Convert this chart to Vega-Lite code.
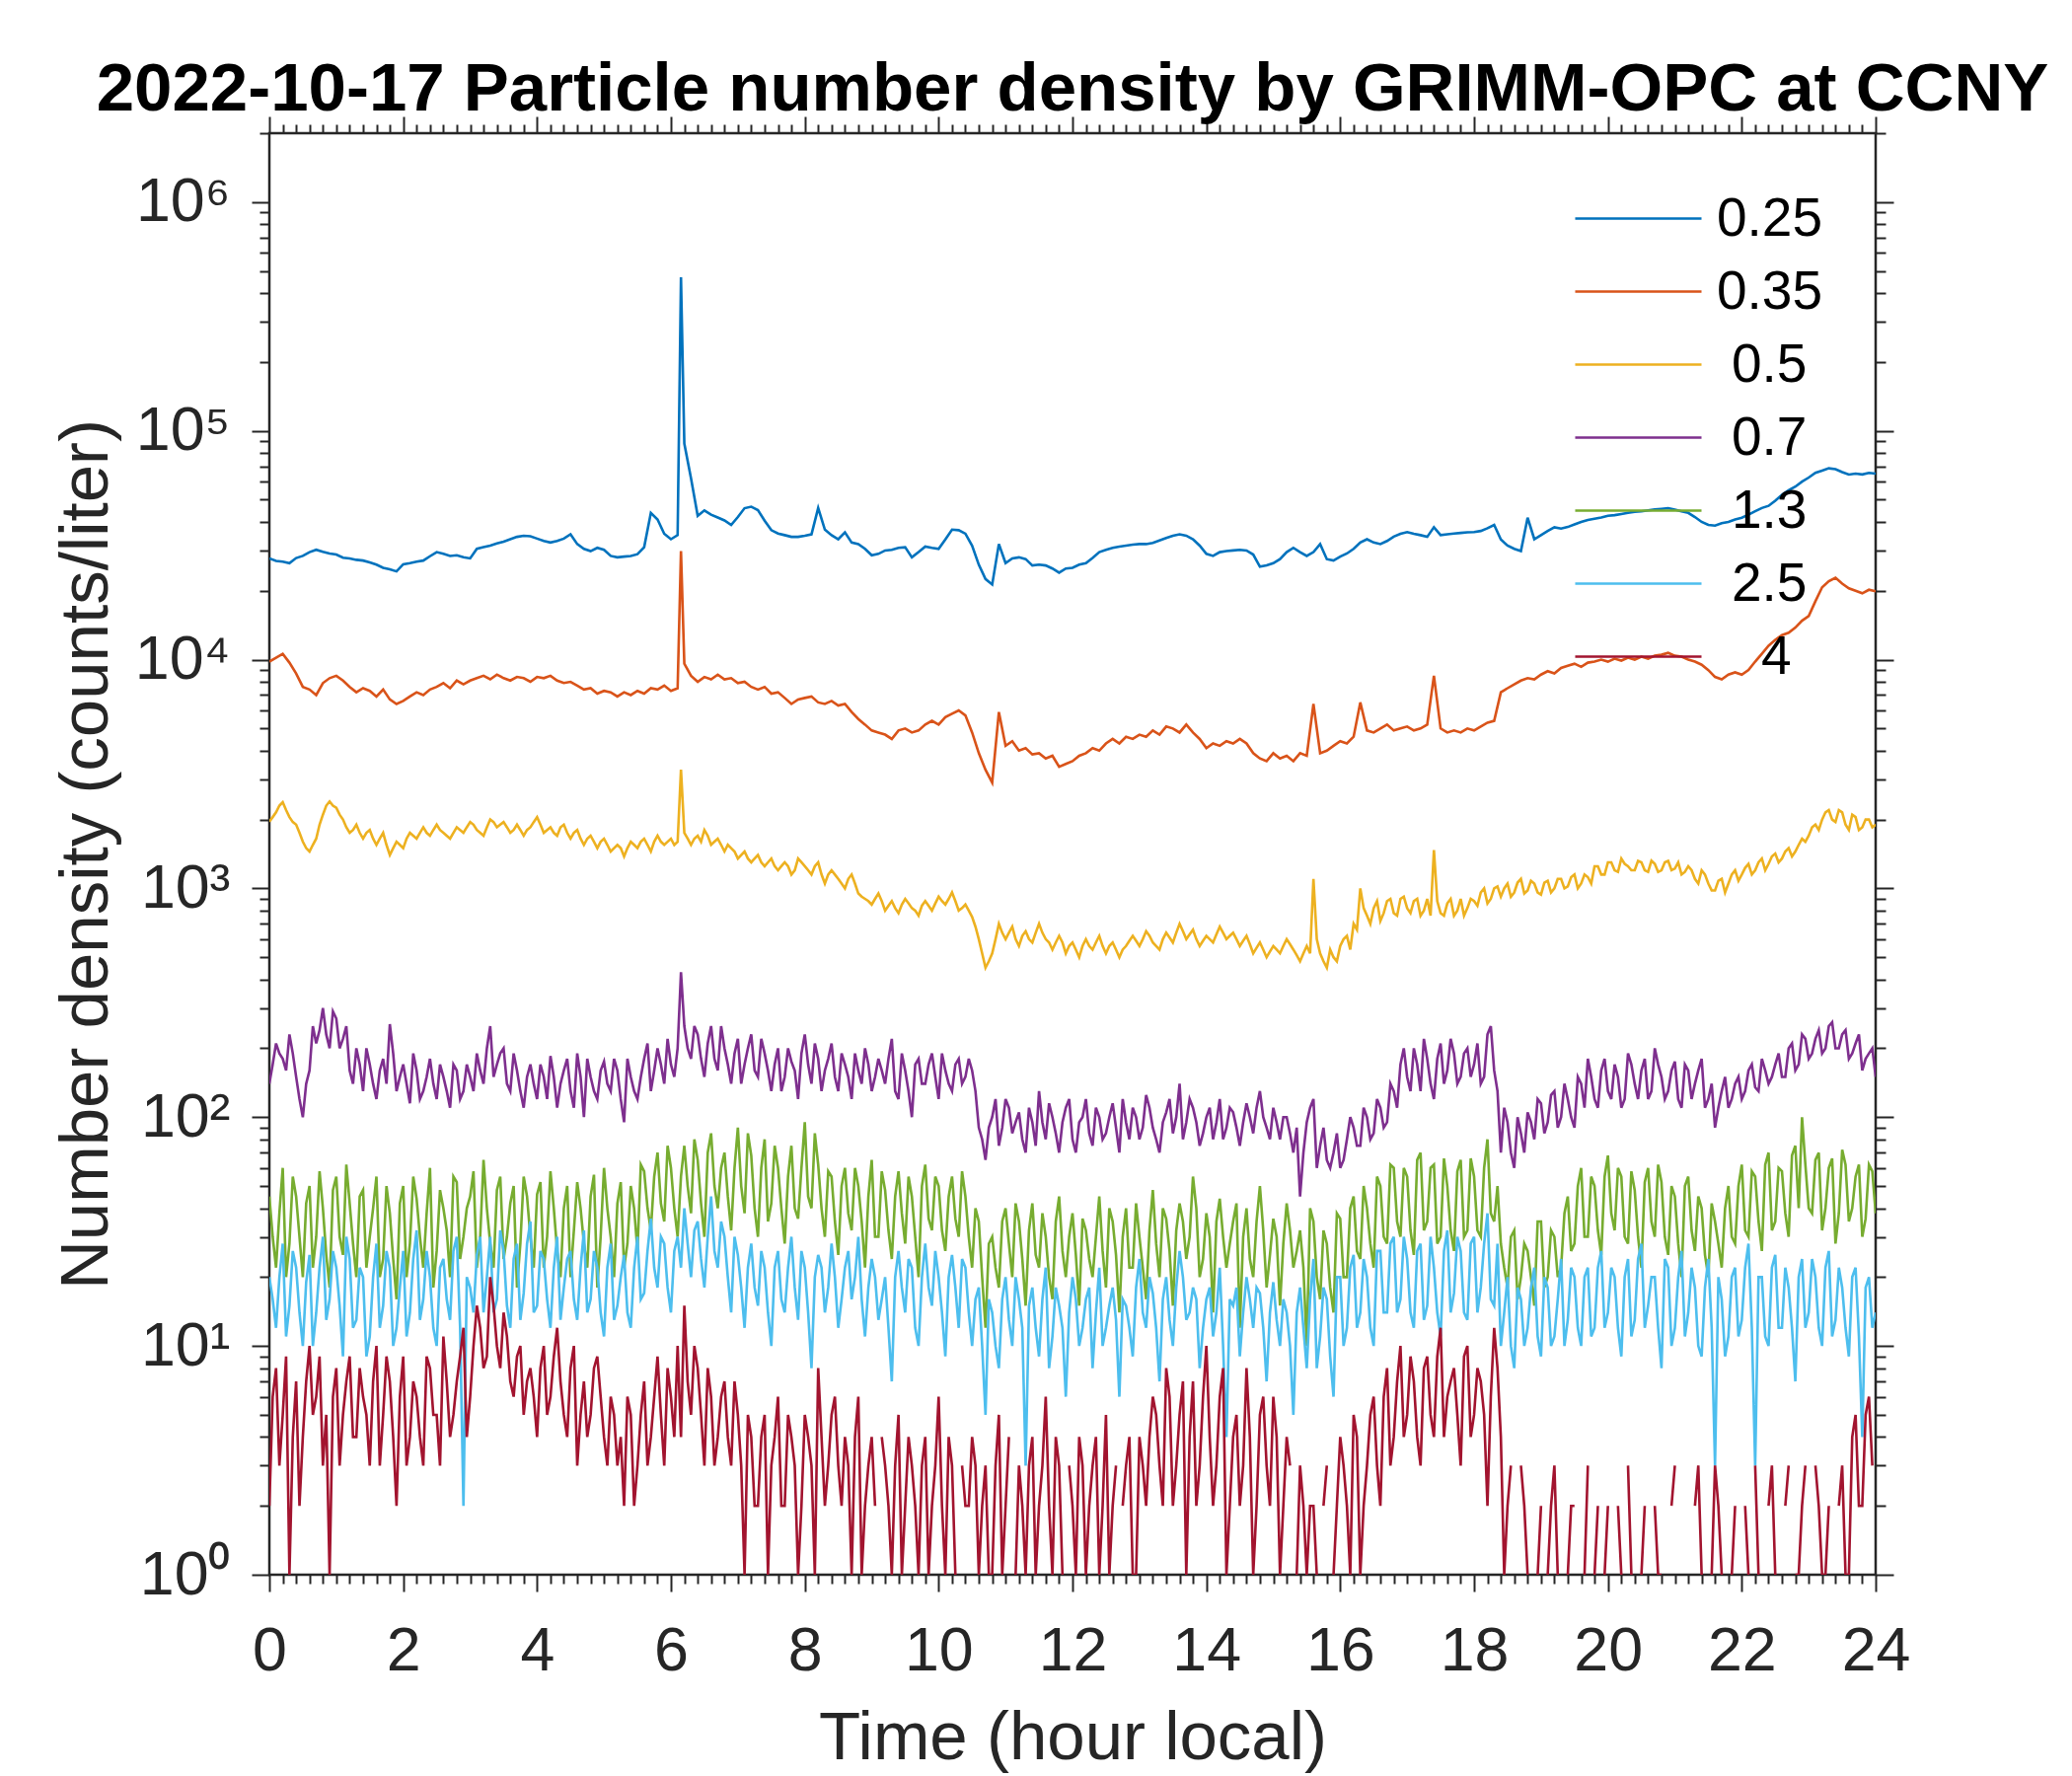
{
  "$schema": "https://vega.github.io/schema/vega-lite/v6.json",
  "width": 1628,
  "height": 1461,
  "autosize": "none",
  "padding": {"left": 273, "top": 135, "right": 199, "bottom": 204},
  "background": "white",
  "title": {
    "text": "2022-10-17 Particle number density by GRIMM-OPC at CCNY",
    "font": "Liberation Sans",
    "fontSize": 69,
    "fontWeight": "bold",
    "color": "black",
    "anchor": "middle",
    "offset": -9
  },
  "config": {
    "view": {"stroke": "#262626", "strokeWidth": 2.5},
    "font": "Liberation Sans",
    "axis": {
      "grid": false,
      "domain": false,
      "tickColor": "#262626",
      "tickWidth": 2,
      "labelColor": "#262626",
      "labelFont": "Liberation Sans",
      "labelFontSize": 62.7,
      "labelOverlap": false,
      "labelFlush": false,
      "titleFont": "Liberation Sans",
      "titleFontSize": 69,
      "titleFontWeight": "normal",
      "titleColor": "#262626"
    }
  },
  "resolve": {"axis": {"x": "independent", "y": "independent"}},
  "layer": [
    {
      "data": {
        "values": [
          {"t":0,"a":27700,"b":9800,"c":1960,"d":140,"e":45,"f":20,"g":2},
          {"t":0.1,"a":27000,"b":10200,"c":2150,"d":210,"e":22,"f":12,"g":8},
          {"t":0.2,"a":26800,"b":10600,"c":2380,"d":180,"e":60,"f":28,"g":5},
          {"t":0.3,"a":26400,"b":9700,"c":2050,"d":230,"e":28,"f":15,"g":1},
          {"t":0.4,"a":27800,"b":8700,"c":1900,"d":150,"e":45,"f":22,"g":7},
          {"t":0.5,"a":28400,"b":7600,"c":1600,"d":100,"e":20,"f":10,"g":4},
          {"t":0.6,"a":29500,"b":7400,"c":1450,"d":160,"e":50,"f":25,"g":10},
          {"t":0.7,"a":30200,"b":7000,"c":1650,"d":210,"e":30,"f":14,"g":6},
          {"t":0.8,"a":29600,"b":7900,"c":2100,"d":300,"e":40,"f":30,"g":3},
          {"t":0.9,"a":29100,"b":8300,"c":2400,"d":200,"e":18,"f":16,"g":1},
          {"t":1.0,"a":28800,"b":8500,"c":2250,"d":270,"e":55,"f":22,"g":8},
          {"t":1.1,"a":27900,"b":8100,"c":2000,"d":220,"e":25,"f":9,"g":5},
          {"t":1.2,"a":27700,"b":7600,"c":1750,"d":160,"e":42,"f":24,"g":9},
          {"t":1.3,"a":27300,"b":7200,"c":1900,"d":200,"e":20,"f":13,"g":4},
          {"t":1.4,"a":27100,"b":7500,"c":1650,"d":130,"e":48,"f":20,"g":6},
          {"t":1.5,"a":26600,"b":7300,"c":1800,"d":170,"e":30,"f":11,"g":3},
          {"t":1.6,"a":26000,"b":6900,"c":1550,"d":120,"e":55,"f":28,"g":10},
          {"t":1.7,"a":25200,"b":7400,"c":1750,"d":180,"e":24,"f":15,"g":5},
          {"t":1.8,"a":24800,"b":6700,"c":1400,"d":255,"e":38,"f":22,"g":7},
          {"t":1.9,"a":24300,"b":6400,"c":1600,"d":130,"e":16,"f":12,"g":2},
          {"t":2.0,"a":26100,"b":6600,"c":1500,"d":170,"e":50,"f":26,"g":9},
          {"t":2.1,"a":26400,"b":6900,"c":1750,"d":115,"e":28,"f":14,"g":4},
          {"t":2.2,"a":26800,"b":7200,"c":1650,"d":160,"e":44,"f":32,"g":6},
          {"t":2.3,"a":27100,"b":7000,"c":1850,"d":130,"e":22,"f":16,"g":3},
          {"t":2.4,"a":28300,"b":7400,"c":1700,"d":180,"e":60,"f":20,"g":8},
          {"t":2.5,"a":29500,"b":7600,"c":1900,"d":120,"e":26,"f":10,"g":5},
          {"t":2.6,"a":29000,"b":7900,"c":1750,"d":150,"e":40,"f":24,"g":11},
          {"t":2.7,"a":28400,"b":7500,"c":1650,"d":110,"e":20,"f":13,"g":4},
          {"t":2.8,"a":28600,"b":8100,"c":1850,"d":160,"e":52,"f":30,"g":7},
          {"t":2.9,"a":28000,"b":7800,"c":1750,"d":130,"e":30,"f":2,"g":12},
          {"t":3.0,"a":27700,"b":8100,"c":1950,"d":150,"e":45,"f":18,"g":6},
          {"t":3.1,"a":30500,"b":8300,"c":1800,"d":190,"e":22,"f":25,"g":15},
          {"t":3.2,"a":31000,"b":8500,"c":1700,"d":140,"e":65,"f":14,"g":8},
          {"t":3.3,"a":31500,"b":8200,"c":2000,"d":250,"e":28,"f":30,"g":20},
          {"t":3.4,"a":32200,"b":8600,"c":1850,"d":170,"e":48,"f":16,"g":10},
          {"t":3.5,"a":32800,"b":8300,"c":1950,"d":200,"e":24,"f":26,"g":14},
          {"t":3.6,"a":33600,"b":8100,"c":1750,"d":130,"e":42,"f":12,"g":7},
          {"t":3.7,"a":34400,"b":8400,"c":1900,"d":160,"e":18,"f":28,"g":9},
          {"t":3.8,"a":34800,"b":8300,"c":1700,"d":110,"e":55,"f":17,"g":5},
          {"t":3.9,"a":34600,"b":8000,"c":1850,"d":170,"e":30,"f":35,"g":8},
          {"t":4.0,"a":33800,"b":8400,"c":2050,"d":120,"e":46,"f":15,"g":4},
          {"t":4.1,"a":33000,"b":8300,"c":1750,"d":150,"e":22,"f":24,"g":10},
          {"t":4.2,"a":32500,"b":8500,"c":1850,"d":185,"e":58,"f":12,"g":6},
          {"t":4.3,"a":33000,"b":8100,"c":1700,"d":110,"e":26,"f":30,"g":12},
          {"t":4.4,"a":33800,"b":7900,"c":1900,"d":160,"e":40,"f":18,"g":5},
          {"t":4.5,"a":35300,"b":8000,"c":1650,"d":130,"e":20,"f":26,"g":8},
          {"t":4.6,"a":32000,"b":7700,"c":1800,"d":190,"e":52,"f":13,"g":3},
          {"t":4.7,"a":30500,"b":7400,"c":1550,"d":100,"e":28,"f":32,"g":7},
          {"t":4.8,"a":29800,"b":7500,"c":1700,"d":150,"e":45,"f":16,"g":5},
          {"t":4.9,"a":30800,"b":7100,"c":1500,"d":120,"e":18,"f":22,"g":9},
          {"t":5.0,"a":30200,"b":7300,"c":1650,"d":175,"e":60,"f":11,"g":4},
          {"t":5.1,"a":28400,"b":7200,"c":1450,"d":130,"e":30,"f":28,"g":6},
          {"t":5.2,"a":28000,"b":6900,"c":1550,"d":160,"e":42,"f":15,"g":3},
          {"t":5.3,"a":28200,"b":7200,"c":1380,"d":95,"e":22,"f":25,"g":2},
          {"t":5.4,"a":28400,"b":7000,"c":1600,"d":150,"e":50,"f":12,"g":5},
          {"t":5.5,"a":28900,"b":7300,"c":1500,"d":120,"e":26,"f":30,"g":3},
          {"t":5.6,"a":31000,"b":7100,"c":1650,"d":180,"e":58,"f":17,"g":7},
          {"t":5.7,"a":43800,"b":7500,"c":1450,"d":130,"e":32,"f":36,"g":4},
          {"t":5.8,"a":41000,"b":7400,"c":1700,"d":200,"e":70,"f":18,"g":9},
          {"t":5.9,"a":35500,"b":7700,"c":1550,"d":140,"e":35,"f":28,"g":3},
          {"t":6.0,"a":33600,"b":7300,"c":1650,"d":170,"e":60,"f":14,"g":6},
          {"t":6.1,"a":35000,"b":7500,"c":1600,"d":200,"e":30,"f":30,"g":10},
          {"t":6.15,"a":469000,"b":29800,"c":3300,"d":430,"e":55,"f":22,"g":4},
          {"t":6.2,"a":88000,"b":9600,"c":1750,"d":250,"e":75,"f":40,"g":15},
          {"t":6.3,"a":62000,"b":8500,"c":1550,"d":180,"e":38,"f":20,"g":5},
          {"t":6.4,"a":42500,"b":8000,"c":1700,"d":230,"e":65,"f":35,"g":8},
          {"t":6.5,"a":44900,"b":8400,"c":1800,"d":150,"e":30,"f":18,"g":3},
          {"t":6.6,"a":43000,"b":8200,"c":1550,"d":250,"e":85,"f":45,"g":6},
          {"t":6.7,"a":41800,"b":8600,"c":1650,"d":160,"e":40,"f":22,"g":4},
          {"t":6.8,"a":40600,"b":8200,"c":1450,"d":200,"e":70,"f":30,"g":7},
          {"t":6.9,"a":38800,"b":8300,"c":1500,"d":140,"e":32,"f":14,"g":3},
          {"t":7.0,"a":42000,"b":7900,"c":1350,"d":220,"e":90,"f":25,"g":5},
          {"t":7.1,"a":45900,"b":8000,"c":1450,"d":170,"e":38,"f":12,"g":1},
          {"t":7.2,"a":46600,"b":7600,"c":1300,"d":230,"e":68,"f":28,"g":4},
          {"t":7.3,"a":45000,"b":7400,"c":1400,"d":150,"e":30,"f":15,"g":2},
          {"t":7.4,"a":40500,"b":7600,"c":1250,"d":190,"e":80,"f":22,"g":5},
          {"t":7.5,"a":36800,"b":7100,"c":1350,"d":130,"e":42,"f":10,"g":3},
          {"t":7.6,"a":35600,"b":7200,"c":1200,"d":200,"e":60,"f":26,"g":6},
          {"t":7.7,"a":35000,"b":6800,"c":1300,"d":150,"e":28,"f":14,"g":2},
          {"t":7.8,"a":34400,"b":6400,"c":1150,"d":175,"e":75,"f":30,"g":4},
          {"t":7.9,"a":34400,"b":6700,"c":1350,"d":120,"e":36,"f":13,"g":1},
          {"t":8.0,"a":34800,"b":6800,"c":1250,"d":230,"e":95,"f":22,"g":5},
          {"t":8.1,"a":35300,"b":6900,"c":1150,"d":140,"e":40,"f":8,"g":3},
          {"t":8.2,"a":46000,"b":6500,"c":1300,"d":180,"e":62,"f":25,"g":8},
          {"t":8.3,"a":37000,"b":6400,"c":1050,"d":160,"e":30,"f":14,"g":2},
          {"t":8.4,"a":35000,"b":6600,"c":1200,"d":210,"e":55,"f":28,"g":5},
          {"t":8.5,"a":33600,"b":6300,"c":1100,"d":130,"e":25,"f":12,"g":3},
          {"t":8.6,"a":36000,"b":6400,"c":1000,"d":170,"e":60,"f":22,"g":4},
          {"t":8.7,"a":32500,"b":5900,"c":1150,"d":120,"e":32,"f":16,"g":1},
          {"t":8.8,"a":32000,"b":5500,"c":950,"d":160,"e":50,"f":30,"g":6},
          {"t":8.9,"a":30500,"b":5200,"c":900,"d":200,"e":22,"f":11,"g":2},
          {"t":9.0,"a":28600,"b":4900,"c":850,"d":130,"e":65,"f":24,"g":4},
          {"t":9.1,"a":29000,"b":4800,"c":950,"d":180,"e":30,"f":13,"g":null},
          {"t":9.2,"a":30000,"b":4700,"c":800,"d":140,"e":48,"f":20,"g":3},
          {"t":9.3,"a":30200,"b":4500,"c":880,"d":220,"e":24,"f":7,"g":1},
          {"t":9.4,"a":30800,"b":4900,"c":780,"d":120,"e":58,"f":26,"g":5},
          {"t":9.5,"a":31000,"b":5000,"c":900,"d":160,"e":28,"f":14,"g":2},
          {"t":9.6,"a":28000,"b":4800,"c":820,"d":100,"e":45,"f":22,"g":3},
          {"t":9.7,"a":29500,"b":4900,"c":760,"d":180,"e":20,"f":10,"g":1},
          {"t":9.8,"a":31200,"b":5200,"c":880,"d":140,"e":62,"f":28,"g":4},
          {"t":9.9,"a":30800,"b":5400,"c":800,"d":190,"e":32,"f":15,"g":2},
          {"t":10.0,"a":30500,"b":5200,"c":920,"d":120,"e":50,"f":20,"g":6},
          {"t":10.1,"a":33500,"b":5600,"c":850,"d":160,"e":26,"f":9,"g":1},
          {"t":10.2,"a":37000,"b":5800,"c":960,"d":130,"e":55,"f":25,"g":3},
          {"t":10.3,"a":36800,"b":6000,"c":800,"d":180,"e":30,"f":12,"g":null},
          {"t":10.4,"a":35500,"b":5700,"c":850,"d":150,"e":45,"f":22,"g":2},
          {"t":10.5,"a":31500,"b":4800,"c":750,"d":160,"e":22,"f":10,"g":4},
          {"t":10.6,"a":26000,"b":3900,"c":600,"d":90,"e":35,"f":18,"g":1},
          {"t":10.7,"a":22500,"b":3300,"c":450,"d":65,"e":12,"f":5,"g":3},
          {"t":10.8,"a":21300,"b":2900,"c":520,"d":100,"e":30,"f":14,"g":1},
          {"t":10.9,"a":32000,"b":5900,"c":700,"d":75,"e":18,"f":8,"g":5},
          {"t":11.0,"a":26400,"b":4200,"c":600,"d":120,"e":40,"f":20,"g":2},
          {"t":11.1,"a":27700,"b":4400,"c":680,"d":85,"e":20,"f":10,"g":null},
          {"t":11.2,"a":28000,"b":4000,"c":560,"d":105,"e":35,"f":16,"g":3},
          {"t":11.3,"a":27500,"b":4100,"c":650,"d":70,"e":15,"f":3,"g":1},
          {"t":11.4,"a":25800,"b":3850,"c":580,"d":95,"e":42,"f":18,"g":4},
          {"t":11.5,"a":26000,"b":3900,"c":700,"d":130,"e":22,"f":9,"g":2},
          {"t":11.6,"a":25800,"b":3700,"c":600,"d":80,"e":30,"f":22,"g":6},
          {"t":11.7,"a":25000,"b":3800,"c":540,"d":100,"e":16,"f":11,"g":1},
          {"t":11.8,"a":24000,"b":3400,"c":620,"d":70,"e":45,"f":15,"g":3},
          {"t":11.9,"a":25000,"b":3500,"c":520,"d":110,"e":20,"f":6,"g":null},
          {"t":12.0,"a":25200,"b":3600,"c":580,"d":80,"e":38,"f":20,"g":2},
          {"t":12.1,"a":26000,"b":3800,"c":500,"d":95,"e":15,"f":10,"g":4},
          {"t":12.2,"a":26400,"b":3900,"c":600,"d":120,"e":32,"f":16,"g":1},
          {"t":12.3,"a":27800,"b":4100,"c":540,"d":75,"e":20,"f":8,"g":3},
          {"t":12.4,"a":29500,"b":4000,"c":620,"d":100,"e":45,"f":22,"g":1},
          {"t":12.5,"a":30200,"b":4300,"c":520,"d":85,"e":18,"f":12,"g":5},
          {"t":12.6,"a":30800,"b":4500,"c":580,"d":115,"e":35,"f":18,"g":2},
          {"t":12.7,"a":31200,"b":4300,"c":500,"d":70,"e":14,"f":6,"g":null},
          {"t":12.8,"a":31500,"b":4600,"c":560,"d":95,"e":40,"f":15,"g":3},
          {"t":12.9,"a":31800,"b":4500,"c":620,"d":110,"e":22,"f":9,"g":1},
          {"t":13.0,"a":32000,"b":4700,"c":560,"d":80,"e":30,"f":24,"g":4},
          {"t":13.1,"a":32000,"b":4600,"c":650,"d":125,"e":16,"f":12,"g":2},
          {"t":13.2,"a":32400,"b":4900,"c":580,"d":90,"e":48,"f":17,"g":6},
          {"t":13.3,"a":33200,"b":4700,"c":540,"d":70,"e":20,"f":7,"g":3},
          {"t":13.4,"a":34000,"b":5100,"c":640,"d":105,"e":36,"f":20,"g":8},
          {"t":13.5,"a":34800,"b":5000,"c":580,"d":85,"e":15,"f":10,"g":2},
          {"t":13.6,"a":35300,"b":4800,"c":700,"d":140,"e":42,"f":26,"g":5},
          {"t":13.7,"a":34800,"b":5200,"c":600,"d":95,"e":24,"f":13,"g":1},
          {"t":13.8,"a":33600,"b":4800,"c":660,"d":110,"e":55,"f":18,"g":7},
          {"t":13.9,"a":31500,"b":4500,"c":560,"d":75,"e":20,"f":8,"g":3},
          {"t":14.0,"a":29000,"b":4100,"c":620,"d":100,"e":38,"f":16,"g":10},
          {"t":14.1,"a":28400,"b":4300,"c":580,"d":80,"e":14,"f":11,"g":2},
          {"t":14.2,"a":29500,"b":4200,"c":680,"d":120,"e":44,"f":22,"g":6},
          {"t":14.3,"a":29800,"b":4400,"c":600,"d":90,"e":22,"f":4,"g":1},
          {"t":14.4,"a":30000,"b":4300,"c":640,"d":105,"e":35,"f":15,"g":4},
          {"t":14.5,"a":30200,"b":4500,"c":560,"d":75,"e":12,"f":9,"g":2},
          {"t":14.6,"a":30000,"b":4300,"c":620,"d":115,"e":40,"f":20,"g":8},
          {"t":14.7,"a":28800,"b":3900,"c":520,"d":85,"e":20,"f":12,"g":1},
          {"t":14.8,"a":25500,"b":3700,"c":580,"d":130,"e":50,"f":17,"g":5},
          {"t":14.9,"a":25800,"b":3600,"c":500,"d":90,"e":18,"f":7,"g":3},
          {"t":15.0,"a":26400,"b":3900,"c":560,"d":110,"e":36,"f":19,"g":6},
          {"t":15.1,"a":27500,"b":3700,"c":520,"d":80,"e":15,"f":10,"g":1},
          {"t":15.2,"a":29500,"b":3800,"c":600,"d":100,"e":42,"f":14,"g":4},
          {"t":15.3,"a":30800,"b":3600,"c":540,"d":70,"e":22,"f":5,"g":null},
          {"t":15.4,"a":29500,"b":3900,"c":480,"d":45,"e":32,"f":18,"g":3},
          {"t":15.5,"a":28400,"b":3800,"c":560,"d":95,"e":10,"f":8,"g":1},
          {"t":15.6,"a":29500,"b":6400,"c":1100,"d":120,"e":35,"f":24,"g":2},
          {"t":15.7,"a":32000,"b":3900,"c":520,"d":75,"e":16,"f":11,"g":null},
          {"t":15.8,"a":27500,"b":4000,"c":450,"d":65,"e":28,"f":16,"g":3},
          {"t":15.9,"a":27100,"b":4200,"c":500,"d":70,"e":14,"f":6,"g":1},
          {"t":16.0,"a":28200,"b":4400,"c":560,"d":60,"e":36,"f":20,"g":4},
          {"t":16.1,"a":29100,"b":4300,"c":620,"d":80,"e":20,"f":12,"g":2},
          {"t":16.2,"a":30500,"b":4600,"c":700,"d":90,"e":45,"f":25,"g":5},
          {"t":16.3,"a":32500,"b":6500,"c":1000,"d":75,"e":24,"f":14,"g":1},
          {"t":16.4,"a":33600,"b":4900,"c":760,"d":100,"e":40,"f":20,"g":3},
          {"t":16.5,"a":32500,"b":4800,"c":820,"d":85,"e":22,"f":10,"g":6},
          {"t":16.6,"a":32000,"b":5000,"c":720,"d":110,"e":50,"f":26,"g":2},
          {"t":16.7,"a":33000,"b":5200,"c":880,"d":95,"e":28,"f":14,"g":8},
          {"t":16.8,"a":34500,"b":4900,"c":780,"d":130,"e":60,"f":30,"g":4},
          {"t":16.9,"a":35500,"b":5000,"c":900,"d":170,"e":30,"f":16,"g":10},
          {"t":17.0,"a":36100,"b":5100,"c":820,"d":150,"e":55,"f":24,"g":5},
          {"t":17.1,"a":35500,"b":4900,"c":880,"d":200,"e":25,"f":12,"g":7},
          {"t":17.2,"a":35000,"b":5000,"c":760,"d":130,"e":70,"f":28,"g":3},
          {"t":17.3,"a":34400,"b":5200,"c":900,"d":180,"e":35,"f":15,"g":9},
          {"t":17.4,"a":37900,"b":8500,"c":1470,"d":120,"e":62,"f":22,"g":4},
          {"t":17.5,"a":35000,"b":5000,"c":780,"d":210,"e":30,"f":11,"g":12},
          {"t":17.6,"a":35300,"b":4800,"c":860,"d":160,"e":50,"f":32,"g":6},
          {"t":17.7,"a":35600,"b":4900,"c":760,"d":190,"e":26,"f":17,"g":8},
          {"t":17.8,"a":35800,"b":4800,"c":900,"d":150,"e":65,"f":26,"g":3},
          {"t":17.9,"a":36000,"b":5000,"c":820,"d":200,"e":32,"f":13,"g":10},
          {"t":18.0,"a":36100,"b":4900,"c":880,"d":170,"e":55,"f":30,"g":5},
          {"t":18.1,"a":36500,"b":5100,"c":960,"d":140,"e":30,"f":18,"g":7},
          {"t":18.2,"a":37500,"b":5300,"c":860,"d":230,"e":80,"f":38,"g":2},
          {"t":18.3,"a":38800,"b":5400,"c":1000,"d":160,"e":35,"f":15,"g":12},
          {"t":18.4,"a":33500,"b":7200,"c":920,"d":70,"e":28,"f":10,"g":4},
          {"t":18.5,"a":31500,"b":7500,"c":1050,"d":95,"e":18,"f":20,"g":2},
          {"t":18.6,"a":30500,"b":7800,"c":960,"d":60,"e":32,"f":8,"g":null},
          {"t":18.7,"a":29800,"b":8100,"c":1100,"d":85,"e":20,"f":16,"g":3},
          {"t":18.8,"a":41700,"b":8300,"c":980,"d":105,"e":26,"f":12,"g":1},
          {"t":18.9,"a":33600,"b":8200,"c":1050,"d":80,"e":15,"f":22,"g":null},
          {"t":19.0,"a":35000,"b":8600,"c":940,"d":115,"e":35,"f":9,"g":2},
          {"t":19.1,"a":36500,"b":8900,"c":1080,"d":95,"e":20,"f":18,"g":1},
          {"t":19.2,"a":37900,"b":8700,"c":1000,"d":130,"e":30,"f":11,"g":3},
          {"t":19.3,"a":37400,"b":9200,"c":1100,"d":100,"e":22,"f":24,"g":null},
          {"t":19.4,"a":38000,"b":9400,"c":1020,"d":120,"e":45,"f":13,"g":1},
          {"t":19.5,"a":39000,"b":9600,"c":1150,"d":90,"e":28,"f":20,"g":2},
          {"t":19.6,"a":40000,"b":9300,"c":1050,"d":140,"e":60,"f":10,"g":null},
          {"t":19.7,"a":40800,"b":9700,"c":1120,"d":180,"e":30,"f":22,"g":3},
          {"t":19.8,"a":41300,"b":9800,"c":1250,"d":120,"e":50,"f":12,"g":1},
          {"t":19.9,"a":41800,"b":10000,"c":1150,"d":160,"e":25,"f":26,"g":null},
          {"t":20.0,"a":42500,"b":9800,"c":1300,"d":130,"e":68,"f":14,"g":2},
          {"t":20.1,"a":42800,"b":10100,"c":1200,"d":170,"e":32,"f":20,"g":null},
          {"t":20.2,"a":43300,"b":9900,"c":1350,"d":110,"e":55,"f":9,"g":1},
          {"t":20.3,"a":43800,"b":10200,"c":1250,"d":190,"e":28,"f":24,"g":3},
          {"t":20.4,"a":44300,"b":10000,"c":1200,"d":140,"e":48,"f":13,"g":null},
          {"t":20.5,"a":44500,"b":10300,"c":1300,"d":160,"e":22,"f":28,"g":1},
          {"t":20.6,"a":44900,"b":10100,"c":1180,"d":120,"e":60,"f":15,"g":null},
          {"t":20.7,"a":45300,"b":10400,"c":1280,"d":200,"e":30,"f":20,"g":2},
          {"t":20.8,"a":45600,"b":10500,"c":1200,"d":150,"e":52,"f":8,"g":1},
          {"t":20.9,"a":45900,"b":10700,"c":1320,"d":130,"e":25,"f":22,"g":null},
          {"t":21.0,"a":45300,"b":10400,"c":1220,"d":175,"e":45,"f":12,"g":3},
          {"t":21.1,"a":44500,"b":10300,"c":1150,"d":110,"e":20,"f":26,"g":null},
          {"t":21.2,"a":43800,"b":10000,"c":1250,"d":160,"e":55,"f":14,"g":null},
          {"t":21.3,"a":42000,"b":9800,"c":1100,"d":140,"e":26,"f":18,"g":2},
          {"t":21.4,"a":40000,"b":9500,"c":1200,"d":180,"e":40,"f":9,"g":1},
          {"t":21.5,"a":38800,"b":9000,"c":1050,"d":120,"e":20,"f":24,"g":null},
          {"t":21.6,"a":38500,"b":8400,"c":980,"d":90,"e":35,"f":3,"g":3},
          {"t":21.7,"a":39500,"b":8200,"c":1100,"d":130,"e":22,"f":16,"g":1},
          {"t":21.8,"a":40000,"b":8600,"c":1050,"d":110,"e":50,"f":11,"g":null},
          {"t":21.9,"a":41000,"b":8800,"c":1200,"d":140,"e":28,"f":22,"g":2},
          {"t":22.0,"a":41700,"b":8600,"c":1150,"d":120,"e":62,"f":13,"g":null},
          {"t":22.1,"a":43000,"b":9000,"c":1280,"d":160,"e":30,"f":28,"g":1},
          {"t":22.2,"a":44500,"b":9800,"c":1200,"d":135,"e":55,"f":3,"g":3},
          {"t":22.3,"a":46000,"b":10600,"c":1350,"d":180,"e":26,"f":20,"g":null},
          {"t":22.4,"a":47000,"b":11500,"c":1280,"d":140,"e":70,"f":10,"g":2},
          {"t":22.5,"a":49500,"b":12200,"c":1420,"d":170,"e":35,"f":25,"g":1},
          {"t":22.6,"a":52500,"b":12800,"c":1350,"d":150,"e":58,"f":12,"g":null},
          {"t":22.7,"a":55000,"b":13100,"c":1500,"d":200,"e":30,"f":18,"g":3},
          {"t":22.8,"a":57000,"b":13800,"c":1450,"d":160,"e":75,"f":7,"g":1},
          {"t":22.9,"a":60000,"b":14800,"c":1650,"d":230,"e":100,"f":24,"g":2},
          {"t":23.0,"a":62500,"b":15500,"c":1700,"d":180,"e":40,"f":14,"g":null},
          {"t":23.1,"a":65500,"b":18000,"c":1900,"d":220,"e":65,"f":20,"g":3},
          {"t":23.2,"a":67000,"b":20700,"c":2000,"d":190,"e":32,"f":10,"g":1},
          {"t":23.3,"a":68600,"b":22000,"c":2200,"d":250,"e":60,"f":26,"g":2},
          {"t":23.4,"a":68000,"b":22800,"c":1950,"d":200,"e":28,"f":13,"g":null},
          {"t":23.5,"a":66000,"b":21500,"c":2150,"d":230,"e":72,"f":18,"g":3},
          {"t":23.6,"a":64400,"b":20500,"c":1800,"d":180,"e":35,"f":9,"g":1},
          {"t":23.7,"a":65000,"b":20000,"c":2050,"d":210,"e":55,"f":22,"g":5},
          {"t":23.8,"a":64500,"b":19500,"c":1850,"d":160,"e":30,"f":4,"g":2},
          {"t":23.9,"a":65500,"b":20200,"c":2000,"d":190,"e":62,"f":20,"g":6},
          {"t":24.0,"a":65000,"b":19900,"c":1900,"d":150,"e":38,"f":14,"g":null},
          {"t":0.05,"c":2050,"d":170,"e":30,"f":16,"g":6},
          {"t":0.15,"c":2300,"d":190,"e":38,"f":20,"g":3},
          {"t":0.25,"c":2200,"d":160,"e":20,"f":11,"g":9},
          {"t":0.35,"c":1950,"d":190,"e":55,"f":26,"g":4},
          {"t":0.45,"c":1750,"d":120,"e":30,"f":14,"g":2},
          {"t":0.55,"c":1500,"d":140,"e":42,"f":19,"g":7},
          {"t":0.65,"c":1550,"d":250,"e":22,"f":10,"g":5},
          {"t":0.75,"c":1900,"d":240,"e":58,"f":22,"g":9},
          {"t":0.85,"c":2300,"d":230,"e":25,"f":13,"g":5},
          {"t":0.95,"c":2300,"d":290,"e":48,"f":26,"g":6},
          {"t":1.05,"c":2100,"d":200,"e":30,"f":15,"g":3},
          {"t":1.15,"c":1850,"d":250,"e":62,"f":30,"g":7},
          {"t":1.25,"c":1800,"d":140,"e":28,"f":12,"g":4},
          {"t":1.35,"c":1750,"d":170,"e":45,"f":22,"g":8},
          {"t":1.45,"c":1750,"d":200,"e":22,"f":9,"g":5},
          {"t":1.55,"c":1650,"d":140,"e":40,"f":20,"g":7},
          {"t":1.65,"c":1650,"d":160,"e":20,"f":12,"g":3},
          {"t":1.75,"c":1550,"d":140,"e":50,"f":26,"g":9},
          {"t":1.85,"c":1500,"d":190,"e":24,"f":10,"g":4},
          {"t":1.95,"c":1550,"d":150,"e":42,"f":18,"g":6},
          {"t":2.05,"c":1650,"d":140,"e":20,"f":11,"g":3},
          {"t":2.15,"c":1700,"d":190,"e":55,"f":24,"g":7},
          {"t":2.25,"c":1750,"d":120,"e":30,"f":13,"g":4},
          {"t":2.35,"c":1750,"d":150,"e":38,"f":26,"g":9},
          {"t":2.45,"c":1800,"d":140,"e":18,"f":12,"g":5},
          {"t":2.55,"c":1800,"d":170,"e":48,"f":22,"g":3},
          {"t":2.65,"c":1700,"d":130,"e":32,"f":16,"g":7},
          {"t":2.75,"c":1750,"d":170,"e":55,"f":26,"g":5},
          {"t":2.85,"c":1800,"d":120,"e":24,"f":12,"g":9},
          {"t":2.95,"c":1850,"d":170,"e":40,"f":20,"g":4},
          {"t":3.05,"c":1900,"d":130,"e":58,"f":14,"g":10},
          {"t":3.15,"c":1750,"d":160,"e":30,"f":30,"g":12},
          {"t":3.25,"c":1850,"d":200,"e":40,"f":20,"g":9},
          {"t":3.35,"c":1950,"d":150,"e":22,"f":14,"g":15},
          {"t":3.45,"c":1900,"d":190,"e":55,"f":32,"g":8},
          {"t":3.55,"c":1850,"d":140,"e":30,"f":15,"g":11},
          {"t":3.65,"c":1800,"d":190,"e":50,"f":24,"g":6},
          {"t":3.75,"c":1800,"d":130,"e":28,"f":13,"g":10},
          {"t":3.85,"c":1800,"d":150,"e":45,"f":28,"g":7},
          {"t":3.95,"c":1950,"d":140,"e":22,"f":14,"g":6},
          {"t":4.05,"c":1900,"d":170,"e":52,"f":26,"g":8},
          {"t":4.15,"c":1800,"d":120,"e":30,"f":16,"g":5},
          {"t":4.25,"c":1750,"d":150,"e":40,"f":22,"g":9},
          {"t":4.35,"c":1850,"d":140,"e":20,"f":13,"g":7},
          {"t":4.45,"c":1750,"d":180,"e":50,"f":24,"g":4},
          {"t":4.55,"c":1750,"d":110,"e":32,"f":16,"g":10},
          {"t":4.65,"c":1650,"d":150,"e":40,"f":22,"g":5},
          {"t":4.75,"c":1650,"d":180,"e":22,"f":14,"g":4},
          {"t":4.85,"c":1600,"d":130,"e":56,"f":26,"g":8},
          {"t":4.95,"c":1600,"d":160,"e":30,"f":14,"g":6},
          {"t":5.05,"c":1550,"d":140,"e":40,"f":22,"g":3},
          {"t":5.15,"c":1500,"d":180,"e":20,"f":13,"g":5},
          {"t":5.25,"c":1500,"d":120,"e":52,"f":20,"g":4},
          {"t":5.35,"c":1500,"d":180,"e":28,"f":14,"g":6},
          {"t":5.45,"c":1550,"d":130,"e":40,"f":22,"g":2},
          {"t":5.55,"c":1600,"d":150,"e":62,"f":16,"g":5},
          {"t":5.65,"c":1550,"d":210,"e":40,"f":26,"g":3},
          {"t":5.75,"c":1600,"d":160,"e":55,"f":22,"g":6},
          {"t":5.85,"c":1600,"d":170,"e":42,"f":30,"g":5},
          {"t":5.95,"c":1600,"d":220,"e":75,"f":18,"g":8},
          {"t":6.05,"c":1550,"d":150,"e":40,"f":26,"g":4},
          {"t":6.25,"c":1650,"d":200,"e":50,"f":28,"g":7},
          {"t":6.35,"c":1650,"d":250,"e":80,"f":32,"g":10},
          {"t":6.45,"c":1600,"d":180,"e":42,"f":24,"g":5},
          {"t":6.55,"c":1700,"d":210,"e":70,"f":30,"g":8},
          {"t":6.65,"c":1600,"d":180,"e":50,"f":26,"g":3},
          {"t":6.75,"c":1550,"d":250,"e":60,"f":35,"g":6},
          {"t":6.85,"c":1550,"d":170,"e":45,"f":20,"g":4},
          {"t":6.95,"c":1450,"d":190,"e":60,"f":30,"g":7},
          {"t":7.05,"c":1400,"d":140,"e":50,"f":18,"g":3},
          {"t":7.15,"c":1350,"d":200,"e":85,"f":22,"g":5},
          {"t":7.25,"c":1350,"d":160,"e":40,"f":18,"g":2},
          {"t":7.35,"c":1300,"d":220,"e":60,"f":26,"g":4},
          {"t":7.45,"c":1300,"d":160,"e":35,"f":14,"g":1},
          {"t":7.55,"c":1250,"d":170,"e":75,"f":22,"g":4},
          {"t":7.65,"c":1250,"d":130,"e":40,"f":16,"g":2},
          {"t":7.75,"c":1250,"d":200,"e":55,"f":22,"g":5},
          {"t":7.85,"c":1200,"d":160,"e":40,"f":18,"g":3},
          {"t":7.95,"c":1300,"d":190,"e":60,"f":26,"g":2},
          {"t":8.05,"c":1200,"d":170,"e":45,"f":14,"g":4},
          {"t":8.15,"c":1250,"d":210,"e":85,"f":20,"g":1},
          {"t":8.25,"c":1150,"d":130,"e":40,"f":22,"g":4},
          {"t":8.35,"c":1150,"d":180,"e":58,"f":18,"g":3},
          {"t":8.45,"c":1150,"d":150,"e":35,"f":20,"g":6},
          {"t":8.55,"c":1050,"d":190,"e":50,"f":16,"g":2},
          {"t":8.65,"c":1100,"d":150,"e":38,"f":26,"g":3},
          {"t":8.75,"c":1050,"d":190,"e":60,"f":20,"g":4},
          {"t":8.85,"c":920,"d":140,"e":35,"f":16,"g":1},
          {"t":8.95,"c":880,"d":170,"e":45,"f":18,"g":3},
          {"t":9.05,"c":900,"d":150,"e":30,"f":20,"g":2},
          {"t":9.15,"c":880,"d":160,"e":58,"f":16,"g":4},
          {"t":9.25,"c":840,"d":180,"e":32,"f":12,"g":2},
          {"t":9.35,"c":820,"d":130,"e":45,"f":20,"g":3},
          {"t":9.45,"c":850,"d":190,"e":38,"f":18,"g":1},
          {"t":9.55,"c":860,"d":130,"e":55,"f":24,"g":4},
          {"t":9.65,"c":800,"d":170,"e":30,"f":12,"g":2},
          {"t":9.75,"c":840,"d":140,"e":50,"f":20,"g":3},
          {"t":9.85,"c":840,"d":170,"e":36,"f":18,"g":1},
          {"t":9.95,"c":860,"d":150,"e":55,"f":26,"g":3},
          {"t":10.05,"c":880,"d":190,"e":32,"f":14,"g":2},
          {"t":10.15,"c":900,"d":140,"e":45,"f":20,"g":4},
          {"t":10.25,"c":880,"d":170,"e":36,"f":18,"g":1},
          {"t":10.35,"c":820,"d":140,"e":58,"f":24,"g":3},
          {"t":10.45,"c":800,"d":180,"e":30,"f":14,"g":2},
          {"t":10.55,"c":680,"d":130,"e":40,"f":16,"g":3},
          {"t":10.65,"c":520,"d":80,"e":20,"f":10,"g":2},
          {"t":10.75,"c":480,"d":90,"e":28,"f":16,"g":1},
          {"t":10.85,"c":600,"d":120,"e":22,"f":10,"g":3},
          {"t":10.95,"c":640,"d":90,"e":35,"f":16,"g":1},
          {"t":11.05,"c":640,"d":110,"e":28,"f":13,"g":4},
          {"t":11.15,"c":600,"d":95,"e":42,"f":20,"g":1},
          {"t":11.25,"c":620,"d":80,"e":24,"f":12,"g":2},
          {"t":11.35,"c":600,"d":110,"e":32,"f":15,"g":3},
          {"t":11.45,"c":640,"d":75,"e":25,"f":12,"g":1},
          {"t":11.55,"c":640,"d":95,"e":38,"f":16,"g":3},
          {"t":11.65,"c":580,"d":115,"e":20,"f":8,"g":2},
          {"t":11.75,"c":580,"d":85,"e":35,"f":18,"g":4},
          {"t":11.85,"c":580,"d":95,"e":26,"f":12,"g":1},
          {"t":11.95,"c":560,"d":120,"e":30,"f":14,"g":3},
          {"t":12.05,"c":540,"d":70,"e":25,"f":16,"g":1},
          {"t":12.15,"c":560,"d":100,"e":36,"f":12,"g":3},
          {"t":12.25,"c":560,"d":85,"e":24,"f":18,"g":2},
          {"t":12.35,"c":580,"d":110,"e":30,"f":14,"g":4},
          {"t":12.45,"c":560,"d":80,"e":26,"f":10,"g":2},
          {"t":12.55,"c":560,"d":100,"e":40,"f":15,"g":1},
          {"t":12.65,"c":540,"d":90,"e":25,"f":13,"g":3},
          {"t":12.75,"c":540,"d":120,"e":30,"f":16,"g":2},
          {"t":12.85,"c":590,"d":80,"e":22,"f":12,"g":4},
          {"t":12.95,"c":590,"d":100,"e":42,"f":18,"g":1},
          {"t":13.05,"c":600,"d":90,"e":22,"f":14,"g":3},
          {"t":13.15,"c":620,"d":110,"e":32,"f":20,"g":4},
          {"t":13.25,"c":560,"d":80,"e":28,"f":12,"g":5},
          {"t":13.35,"c":600,"d":95,"e":40,"f":16,"g":2},
          {"t":13.45,"c":610,"d":120,"e":26,"f":13,"g":6},
          {"t":13.55,"c":640,"d":100,"e":32,"f":18,"g":3},
          {"t":13.65,"c":650,"d":80,"e":35,"f":20,"g":7},
          {"t":13.75,"c":630,"d":120,"e":30,"f":14,"g":4},
          {"t":13.85,"c":600,"d":95,"e":40,"f":16,"g":2},
          {"t":13.95,"c":590,"d":85,"e":24,"f":12,"g":6},
          {"t":14.05,"c":600,"d":110,"e":30,"f":18,"g":4},
          {"t":14.15,"c":630,"d":95,"e":35,"f":14,"g":3},
          {"t":14.25,"c":640,"d":80,"e":30,"f":10,"g":8},
          {"t":14.35,"c":620,"d":110,"e":28,"f":16,"g":2},
          {"t":14.45,"c":600,"d":90,"e":42,"f":18,"g":5},
          {"t":14.55,"c":590,"d":95,"e":30,"f":14,"g":3},
          {"t":14.65,"c":570,"d":100,"e":24,"f":16,"g":4},
          {"t":14.75,"c":550,"d":110,"e":35,"f":18,"g":2},
          {"t":14.85,"c":540,"d":100,"e":32,"f":12,"g":6},
          {"t":14.95,"c":530,"d":80,"e":25,"f":14,"g":2},
          {"t":15.05,"c":540,"d":95,"e":30,"f":13,"g":4},
          {"t":15.15,"c":560,"d":100,"e":28,"f":16,"g":2},
          {"t":15.25,"c":570,"d":85,"e":32,"f":10,"g":3},
          {"t":15.35,"c":510,"d":90,"e":26,"f":14,"g":1},
          {"t":15.45,"c":520,"d":70,"e":22,"f":12,"g":2},
          {"t":15.55,"c":520,"d":110,"e":40,"f":16,"g":2},
          {"t":15.65,"c":600,"d":60,"e":20,"f":8,"g":1},
          {"t":15.75,"c":480,"d":90,"e":32,"f":18,"g":2},
          {"t":15.85,"c":540,"d":60,"e":18,"f":9,"g":null},
          {"t":15.95,"c":480,"d":85,"e":38,"f":20,"g":2},
          {"t":16.05,"c":600,"d":65,"e":20,"f":10,"g":3},
          {"t":16.15,"c":540,"d":100,"e":40,"f":22,"g":1},
          {"t":16.25,"c":660,"d":75,"e":26,"f":12,"g":4},
          {"t":16.35,"c":820,"d":110,"e":50,"f":24,"g":2},
          {"t":16.45,"c":700,"d":80,"e":28,"f":12,"g":5},
          {"t":16.55,"c":880,"d":120,"e":55,"f":26,"g":3},
          {"t":16.65,"c":780,"d":90,"e":30,"f":14,"g":6},
          {"t":16.75,"c":900,"d":140,"e":62,"f":28,"g":3},
          {"t":16.85,"c":760,"d":110,"e":35,"f":14,"g":7},
          {"t":16.95,"c":920,"d":200,"e":60,"f":30,"g":4},
          {"t":17.05,"c":780,"d":130,"e":32,"f":14,"g":9},
          {"t":17.15,"c":900,"d":170,"e":65,"f":26,"g":4},
          {"t":17.25,"c":800,"d":220,"e":32,"f":13,"g":8},
          {"t":17.35,"c":760,"d":140,"e":60,"f":30,"g":5},
          {"t":17.45,"c":880,"d":180,"e":28,"f":14,"g":9},
          {"t":17.55,"c":760,"d":140,"e":66,"f":26,"g":4},
          {"t":17.65,"c":900,"d":220,"e":32,"f":14,"g":7},
          {"t":17.75,"c":800,"d":140,"e":58,"f":30,"g":5},
          {"t":17.85,"c":760,"d":190,"e":30,"f":14,"g":9},
          {"t":17.95,"c":900,"d":150,"e":66,"f":28,"g":4},
          {"t":18.05,"c":840,"d":210,"e":32,"f":14,"g":8},
          {"t":18.15,"c":1000,"d":150,"e":60,"f":28,"g":5},
          {"t":18.25,"c":900,"d":250,"e":38,"f":16,"g":6},
          {"t":18.35,"c":1020,"d":130,"e":50,"f":28,"g":8},
          {"t":18.45,"c":1000,"d":110,"e":22,"f":14,"g":1},
          {"t":18.55,"c":920,"d":70,"e":30,"f":10,"g":3},
          {"t":18.65,"c":1060,"d":100,"e":16,"f":18,"g":null},
          {"t":18.75,"c":950,"d":70,"e":28,"f":10,"g":2},
          {"t":18.85,"c":1080,"d":95,"e":20,"f":18,"g":null},
          {"t":18.95,"c":960,"d":120,"e":35,"f":11,"g":1},
          {"t":19.05,"c":1060,"d":85,"e":18,"f":20,"g":null},
          {"t":19.15,"c":960,"d":125,"e":32,"f":10,"g":2},
          {"t":19.25,"c":1100,"d":90,"e":20,"f":16,"g":1},
          {"t":19.35,"c":1000,"d":140,"e":38,"f":10,"g":null},
          {"t":19.45,"c":1120,"d":100,"e":26,"f":22,"g":2},
          {"t":19.55,"c":1000,"d":150,"e":50,"f":12,"g":null},
          {"t":19.65,"c":1150,"d":110,"e":30,"f":20,"g":1},
          {"t":19.75,"c":1050,"d":150,"e":55,"f":11,"g":null},
          {"t":19.85,"c":1250,"d":110,"e":32,"f":22,"g":2},
          {"t":19.95,"c":1150,"d":180,"e":55,"f":12,"g":1},
          {"t":20.05,"c":1300,"d":120,"e":38,"f":22,"g":null},
          {"t":20.15,"c":1180,"d":150,"e":60,"f":12,"g":2},
          {"t":20.25,"c":1280,"d":120,"e":30,"f":20,"g":null},
          {"t":20.35,"c":1200,"d":170,"e":58,"f":11,"g":1},
          {"t":20.45,"c":1320,"d":120,"e":30,"f":24,"g":null},
          {"t":20.55,"c":1200,"d":180,"e":52,"f":12,"g":2},
          {"t":20.65,"c":1320,"d":130,"e":35,"f":20,"g":null},
          {"t":20.75,"c":1180,"d":170,"e":62,"f":12,"g":1},
          {"t":20.85,"c":1300,"d":120,"e":30,"f":24,"g":null},
          {"t":20.95,"c":1200,"d":160,"e":50,"f":10,"g":2},
          {"t":21.05,"c":1300,"d":120,"e":28,"f":20,"g":null},
          {"t":21.15,"c":1180,"d":170,"e":50,"f":11,"g":1},
          {"t":21.25,"c":1200,"d":120,"e":32,"f":22,"g":null},
          {"t":21.35,"c":1050,"d":160,"e":45,"f":10,"g":3},
          {"t":21.45,"c":1150,"d":110,"e":25,"f":18,"g":null},
          {"t":21.55,"c":980,"d":140,"e":42,"f":12,"g":1},
          {"t":21.65,"c":1080,"d":110,"e":28,"f":20,"g":2},
          {"t":21.75,"c":960,"d":150,"e":40,"f":9,"g":null},
          {"t":21.85,"c":1150,"d":120,"e":30,"f":20,"g":1},
          {"t":21.95,"c":1080,"d":150,"e":50,"f":11,"g":null},
          {"t":22.05,"c":1230,"d":130,"e":32,"f":22,"g":2},
          {"t":22.15,"c":1150,"d":170,"e":58,"f":12,"g":null},
          {"t":22.25,"c":1300,"d":130,"e":35,"f":20,"g":1},
          {"t":22.35,"c":1200,"d":160,"e":62,"f":11,"g":null},
          {"t":22.45,"c":1380,"d":150,"e":32,"f":22,"g":3},
          {"t":22.55,"c":1300,"d":190,"e":60,"f":12,"g":null},
          {"t":22.65,"c":1450,"d":150,"e":38,"f":22,"g":2},
          {"t":22.75,"c":1380,"d":210,"e":68,"f":12,"g":null},
          {"t":22.85,"c":1550,"d":170,"e":40,"f":20,"g":1},
          {"t":22.95,"c":1600,"d":220,"e":62,"f":12,"g":3},
          {"t":23.05,"c":1850,"d":190,"e":38,"f":24,"g":null},
          {"t":23.15,"c":1800,"d":240,"e":70,"f":12,"g":2},
          {"t":23.25,"c":2150,"d":200,"e":40,"f":22,"g":1},
          {"t":23.35,"c":2000,"d":260,"e":66,"f":11,"g":null},
          {"t":23.45,"c":2200,"d":200,"e":38,"f":22,"g":2},
          {"t":23.55,"c":1900,"d":240,"e":62,"f":12,"g":1},
          {"t":23.65,"c":2100,"d":190,"e":40,"f":20,"g":4},
          {"t":23.75,"c":1800,"d":230,"e":62,"f":11,"g":2},
          {"t":23.85,"c":2000,"d":180,"e":36,"f":18,"g":5},
          {"t":23.95,"c":1850,"d":200,"e":58,"f":12,"g":3}
        ]
      },
      "transform": [
        {"fold": ["a", "b", "c", "d", "e", "f", "g"], "as": ["s", "v"]},
        {"filter": "isDefined(datum.v)"}
      ],
      "mark": {"type": "line", "strokeWidth": 2.6, "clip": true, "invalid": "break-paths-show-domains"},
      "encoding": {
        "x": {
          "field": "t",
          "type": "quantitative",
          "scale": {"domain": [0, 24], "nice": false, "zero": false},
          "axis": {
            "orient": "bottom",
            "values": [0, 2, 4, 6, 8, 10, 12, 14, 16, 18, 20, 22, 24],
            "tickSize": 17,
            "labelPadding": 29,
            "title": "Time (hour local)",
            "titlePadding": 23
          }
        },
        "y": {
          "field": "v",
          "type": "quantitative",
          "scale": {"type": "log", "domain": [1, 2000000], "nice": false},
          "axis": {
            "orient": "left",
            "values": [1, 10, 100, 1000, 10000, 100000, 1000000],
            "tickSize": 18,
            "labelPadding": 22,
            "labelExpr": "'10' + ['⁰','¹','²','³','⁴','⁵','⁶'][round(log(datum.value) / LN10)]",
            "title": "Number density (counts/liter)",
            "titlePadding": 14
          }
        },
        "color": {
          "field": "s",
          "type": "nominal",
          "scale": {
            "domain": ["a", "b", "c", "d", "e", "f", "g"],
            "range": ["#0072BD", "#D95319", "#EDB120", "#7E2F8E", "#77AC30", "#4DBEEE", "#A2142F"]
          },
          "legend": {
            "orient": "none",
            "legendX": 1376,
            "legendY": 48,
            "title": null,
            "padding": 0,
            "symbolType": "M-2.46,0H1",
            "symbolSize": 5476,
            "symbolStrokeWidth": 2.6,
            "labelFont": "Liberation Sans",
            "labelFontSize": 55,
            "labelColor": "black",
            "labelOffset": 14,
            "rowPadding": 7,
            "labelExpr": "['0.25','0.35','0.5','0.7','1.3','2.5','4'][indexof(['a','b','c','d','e','f','g'], datum.value)]",
            "encode": {
              "labels": {
                "update": {
                  "dx": {"signal": "datum.value == 'a' || datum.value == 'b' ? 0 : datum.value == 'g' ? 45 : 15"}
                }
              }
            }
          }
        }
      }
    },
    {
      "data": {"values": [{"t": 0, "v": 1}]},
      "mark": {"type": "point", "opacity": 0},
      "encoding": {
        "x": {
          "field": "t",
          "type": "quantitative",
          "axis": {
            "orient": "bottom",
            "values": [0.2,0.4,0.6,0.8,1,1.2,1.4,1.6,1.8,2.2,2.4,2.6,2.8,3,3.2,3.4,3.6,3.8,4.2,4.4,4.6,4.8,5,5.2,5.4,5.6,5.8,6.2,6.4,6.6,6.8,7,7.2,7.4,7.6,7.8,8.2,8.4,8.6,8.8,9,9.2,9.4,9.6,9.8,10.2,10.4,10.6,10.8,11,11.2,11.4,11.6,11.8,12.2,12.4,12.6,12.8,13,13.2,13.4,13.6,13.8,14.2,14.4,14.6,14.8,15,15.2,15.4,15.6,15.8,16.2,16.4,16.6,16.8,17,17.2,17.4,17.6,17.8,18.2,18.4,18.6,18.8,19,19.2,19.4,19.6,19.8,20.2,20.4,20.6,20.8,21,21.2,21.4,21.6,21.8,22.2,22.4,22.6,22.8,23,23.2,23.4,23.6,23.8],
            "tickSize": 9,
            "labels": false,
            "title": null
          }
        },
        "y": {
          "field": "v",
          "type": "quantitative",
          "axis": {
            "orient": "left",
            "values": [2,3,4,5,6,7,8,9,20,30,40,50,60,70,80,90,200,300,400,500,600,700,800,900,2000,3000,4000,5000,6000,7000,8000,9000,20000,30000,40000,50000,60000,70000,80000,90000,200000,300000,400000,500000,600000,700000,800000,900000,2000000],
            "tickSize": 10,
            "labels": false,
            "title": null
          }
        }
      }
    },
    {
      "data": {"values": [{"t": 0, "v": 1}]},
      "mark": {"type": "point", "opacity": 0},
      "encoding": {
        "x": {
          "field": "t",
          "type": "quantitative",
          "axis": {
            "orient": "top",
            "values": [0, 2, 4, 6, 8, 10, 12, 14, 16, 18, 20, 22, 24],
            "tickSize": 17,
            "labels": false,
            "title": null
          }
        },
        "y": {
          "field": "v",
          "type": "quantitative",
          "axis": {
            "orient": "right",
            "values": [1, 10, 100, 1000, 10000, 100000, 1000000],
            "tickSize": 18,
            "labels": false,
            "title": null
          }
        }
      }
    },
    {
      "data": {"values": [{"t": 0, "v": 1}]},
      "mark": {"type": "point", "opacity": 0},
      "encoding": {
        "x": {
          "field": "t",
          "type": "quantitative",
          "axis": {
            "orient": "top",
            "values": [0.2,0.4,0.6,0.8,1,1.2,1.4,1.6,1.8,2.2,2.4,2.6,2.8,3,3.2,3.4,3.6,3.8,4.2,4.4,4.6,4.8,5,5.2,5.4,5.6,5.8,6.2,6.4,6.6,6.8,7,7.2,7.4,7.6,7.8,8.2,8.4,8.6,8.8,9,9.2,9.4,9.6,9.8,10.2,10.4,10.6,10.8,11,11.2,11.4,11.6,11.8,12.2,12.4,12.6,12.8,13,13.2,13.4,13.6,13.8,14.2,14.4,14.6,14.8,15,15.2,15.4,15.6,15.8,16.2,16.4,16.6,16.8,17,17.2,17.4,17.6,17.8,18.2,18.4,18.6,18.8,19,19.2,19.4,19.6,19.8,20.2,20.4,20.6,20.8,21,21.2,21.4,21.6,21.8,22.2,22.4,22.6,22.8,23,23.2,23.4,23.6,23.8],
            "tickSize": 9,
            "labels": false,
            "title": null
          }
        },
        "y": {
          "field": "v",
          "type": "quantitative",
          "axis": {
            "orient": "right",
            "values": [2,3,4,5,6,7,8,9,20,30,40,50,60,70,80,90,200,300,400,500,600,700,800,900,2000,3000,4000,5000,6000,7000,8000,9000,20000,30000,40000,50000,60000,70000,80000,90000,200000,300000,400000,500000,600000,700000,800000,900000,2000000],
            "tickSize": 10,
            "labels": false,
            "title": null
          }
        }
      }
    }
  ]
}
